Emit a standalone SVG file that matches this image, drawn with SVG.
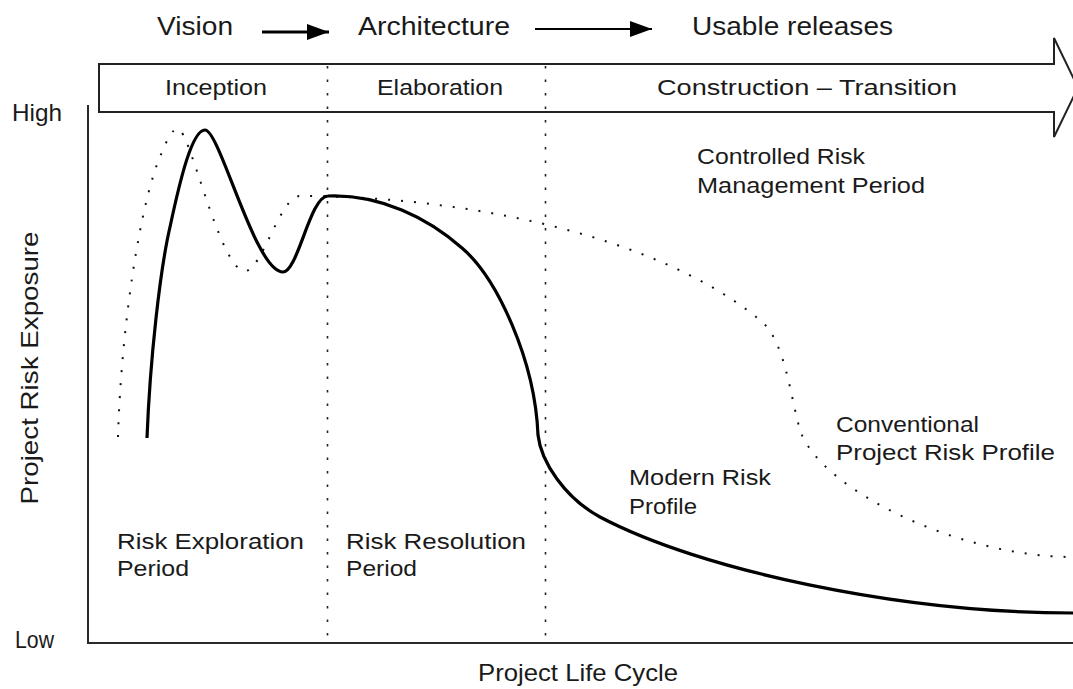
<svg xmlns="http://www.w3.org/2000/svg" width="1073" height="689" viewBox="0 0 1073 689">
<defs>
<style>
text{font-family:"Liberation Sans",Arial,sans-serif;fill:#1a1a1a;font-size:22px}
.top{font-size:25px}
.big{font-size:24px}
.axis{stroke:#2a2a2a;stroke-width:2;fill:none}
.div{stroke:#222;stroke-width:1.6;stroke-dasharray:2.5 11;fill:none}
.solid{stroke:#000;stroke-width:3.2;fill:none;stroke-linejoin:round}
.dot{stroke:#111;stroke-width:2;stroke-dasharray:2 11;fill:none}
.phase{stroke:#222;stroke-width:2;fill:#fff}
.conn{stroke:#000;fill:none}
</style>
<marker id="ah" viewBox="0 0 10 10" refX="10" refY="5" markerUnits="userSpaceOnUse" markerWidth="22" markerHeight="16" preserveAspectRatio="none" orient="auto">
<path d="M0,0 L10,5 L0,10 Z" fill="#000"/>
</marker>
</defs>
<rect width="1073" height="689" fill="#fff"/>

<g id="milestones">
<text class="top" x="157" y="35" textLength="76" lengthAdjust="spacingAndGlyphs">Vision</text>
<text class="top" x="358" y="35" textLength="152" lengthAdjust="spacingAndGlyphs">Architecture</text>
<text class="top" x="692" y="35" textLength="201" lengthAdjust="spacingAndGlyphs">Usable releases</text>
</g>
<g id="connectors">
<line class="conn" x1="262" y1="32" x2="329" y2="32" stroke-width="3" marker-end="url(#ah)"/>
<line class="conn" x1="535" y1="29" x2="652" y2="29" stroke-width="2" marker-end="url(#ah)"/>
</g>

<g id="phase-arrow">
<path class="phase" d="M99,64 L1054,64 L1054,38 L1078,87.5 L1054,137 L1054,112 L99,112 Z"/>
<text x="165" y="95" textLength="102" lengthAdjust="spacingAndGlyphs">Inception</text>
<text x="377" y="95" textLength="126" lengthAdjust="spacingAndGlyphs">Elaboration</text>
<text x="657" y="95" textLength="300" lengthAdjust="spacingAndGlyphs">Construction  –  Transition</text>
</g>

<g id="dividers">
<line class="div" x1="327.5" y1="66" x2="327.5" y2="642"/>
<line class="div" x1="545.5" y1="66" x2="545.5" y2="642"/>
</g>

<g id="axes">
<path class="axis" d="M88,105 L88,643 L1073,643"/>
<text class="big" x="12" y="121" textLength="50" lengthAdjust="spacingAndGlyphs">High</text>
<text class="big" x="15" y="648" textLength="39" lengthAdjust="spacingAndGlyphs">Low</text>
<text class="big" transform="translate(38,368) rotate(-90)" text-anchor="middle" textLength="273" lengthAdjust="spacingAndGlyphs">Project Risk Exposure</text>
<text class="big" x="478" y="681" textLength="200" lengthAdjust="spacingAndGlyphs">Project Life Cycle</text>
</g>

<g id="conventional-profile">
<path class="dot" d="M118,437 C121,330 140,200 162,152 C168,138 172,129 178,129 C190,129 220,271 245,271 C262,271 280,196 300,196 C450,196 650,230 760,320 C785,340 790,395 800,430 C820,490 960,557 1073,557"/>
</g>

<g id="modern-profile">
<path class="solid" d="M147,438 C150,360 160,270 170,227 C180,180 192,130 205,130 C220,130 255,272 283,272 C298,272 310,196 328,196 C380,194 428,218 462,248 C497,278 535,360 538,435 C541,462 565,498 600,517 C700,570 900,613 1073,613"/>
</g>

<g id="labels">
<text x="697" y="164" textLength="168" lengthAdjust="spacingAndGlyphs">Controlled Risk</text>
<text x="697" y="193" textLength="228" lengthAdjust="spacingAndGlyphs">Management Period</text>
<text x="836" y="432" textLength="143" lengthAdjust="spacingAndGlyphs">Conventional</text>
<text x="836" y="460" textLength="219" lengthAdjust="spacingAndGlyphs">Project Risk Profile</text>
<text x="629" y="485" textLength="142" lengthAdjust="spacingAndGlyphs">Modern Risk</text>
<text x="629" y="514" textLength="68" lengthAdjust="spacingAndGlyphs">Profile</text>
<text x="117" y="549" textLength="187" lengthAdjust="spacingAndGlyphs">Risk Exploration</text>
<text x="117" y="576" textLength="72" lengthAdjust="spacingAndGlyphs">Period</text>
<text x="346" y="549" textLength="180" lengthAdjust="spacingAndGlyphs">Risk Resolution</text>
<text x="346" y="576" textLength="71" lengthAdjust="spacingAndGlyphs">Period</text>
</g>
</svg>
